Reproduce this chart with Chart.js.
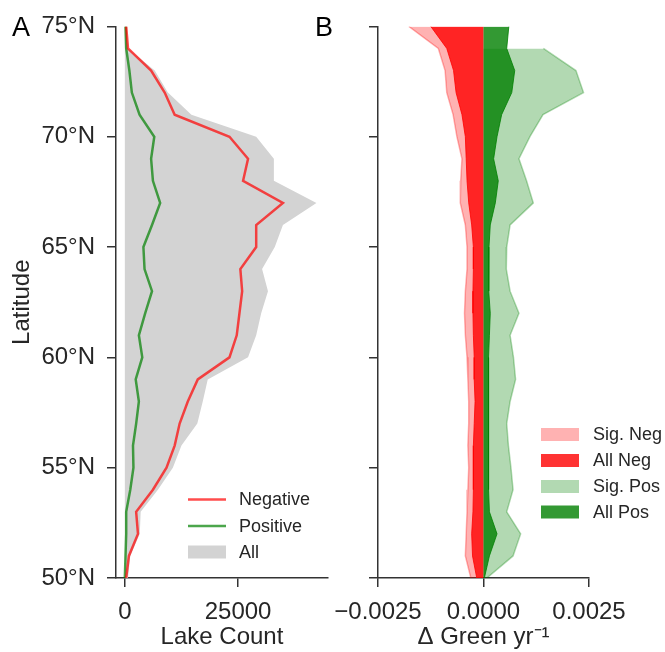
<!DOCTYPE html>
<html>
<head>
<meta charset="utf-8">
<script src="https://cdn.jsdelivr.net/npm/chart.js@4/dist/chart.umd.min.js"></script>
<style>
  html, body { margin: 0; padding: 0; background: #ffffff; }
  #wrap { position: relative; width: 665px; height: 652px; }
  canvas { position: absolute; left: 0; top: 0; }
</style>
</head>
<body>
<div id="wrap">
  <canvas id="chartA" width="665" height="652"></canvas>
  <canvas id="chartB" width="665" height="652"></canvas>
</div>
<script>
// ---------------- DATA ----------------
const latitudes = [75, 74, 73, 72, 71, 70, 69, 68, 67, 66, 65, 64, 63, 62, 61, 60, 59, 58, 57, 56, 55, 54, 53, 52, 51, 50];

// Panel A: lake counts
const negativeCount = [300, 700, 5800, 8800, 11000, 23100, 27200, 26100, 34900, 29000, 29000, 25500, 25900, 25300, 24700, 23100, 16100, 13900, 12100, 11000, 9200, 6200, 2500, 2900, 900, 300];
const positiveCount = [150, 300, 1000, 1550, 3250, 6500, 5800, 6200, 7800, 6000, 4100, 4350, 6000, 4500, 3100, 3850, 2400, 3100, 2500, 1800, 1900, 1200, 300, 300, 150, 0];
const allCount      = [400, 700, 6600, 9500, 14700, 29000, 32900, 32900, 42300, 34900, 33100, 30300, 31600, 30100, 29000, 27200, 18300, 17200, 16000, 12500, 10600, 7300, 3500, 3300, 1200, 700];

// Panel B: delta green per year
const sigNeg = [-0.00177, -0.00107, -0.00091, -0.00087, -0.00072, -0.00063, -0.00051, -0.00054, -0.00055, -0.00043, -0.00039, -0.00039, -0.00043, -0.00045, -0.00043, -0.00039, -0.00037, -0.00035, -0.00035, -0.00037, -0.00035, -0.00037, -0.00039, -0.00041, -0.00043, -0.00030];
const allNeg = [-0.00125, -0.00087, -0.00071, -0.00065, -0.00051, -0.00043, -0.00041, -0.00039, -0.00035, -0.00028, -0.00024, -0.00024, -0.00025, -0.00025, -0.00024, -0.00022, -0.00022, -0.00020, -0.00022, -0.00024, -0.00024, -0.00024, -0.00025, -0.00028, -0.00026, -0.00016];
const sigPos = [null, 0.00142, 0.00219, 0.00237, 0.00141, 0.00110, 0.00084, 0.00102, 0.00118, 0.00063, 0.00055, 0.00054, 0.00063, 0.00084, 0.00063, 0.00071, 0.00076, 0.00063, 0.00055, 0.00059, 0.00065, 0.00070, 0.00055, 0.00088, 0.00070, 0.00008];
const allPos = [0.00060, 0.00055, 0.00074, 0.00067, 0.00043, 0.00032, 0.00024, 0.00035, 0.00028, 0.00016, 0.00013, 0.00012, 0.00013, 0.00016, 0.00014, 0.00012, 0.00012, 0.00012, 0.00012, 0.00012, 0.00012, 0.00012, 0.00014, 0.00032, 0.00014, 0.00002];

// Tick labels
const latTicks = [50, 55, 60, 65, 70, 75];
const countTicks = [0, 25000];
const greenTicks = [-0.0025, 0, 0.0025];

// ---------------- STYLE ----------------
const FONT = "'Liberation Sans', Arial, Helvetica, sans-serif";
const TEXT = '#262626';
const AXIS = '#333333';

function pts(vals) {
  return latitudes.map((lat, i) => ({ x: vals[i], y: lat }));
}
function setTicks(values) {
  return function (scale) { scale.ticks = values.map(v => ({ value: v })); };
}
function fmtGreen(v) {
  const s = Math.abs(v).toFixed(4);
  return v < 0 ? '\u2212' + s : s;
}

function yScale(showLabels, width, withTitle) {
  return {
    type: 'linear', min: 50, max: 75,
    afterBuildTicks: setTicks(latTicks),
    afterFit: s => { s.width = width; },
    border: { display: true, color: AXIS, width: 1.5 },
    grid: { drawOnChartArea: false, drawTicks: true, tickLength: 9, color: AXIS, lineWidth: 1.5 },
    ticks: {
      padding: 12, color: TEXT, font: { family: FONT, size: 24 },
      callback: v => showLabels ? v + '\u00B0N' : ''
    },
    title: withTitle ? {
      display: true, text: 'Latitude', color: TEXT,
      font: { family: FONT, size: 24 }, padding: { top: 8, bottom: 0 }
    } : { display: false }
  };
}

function xScale(min, max, ticks, fmt, title) {
  return {
    type: 'linear', min: min, max: max,
    afterBuildTicks: setTicks(ticks),
    afterFit: s => { s.height = 74; },
    border: { display: true, color: AXIS, width: 1.5 },
    grid: { drawOnChartArea: false, drawTicks: true, tickLength: 9, color: AXIS, lineWidth: 1.5 },
    ticks: { padding: 11, color: TEXT, font: { family: FONT, size: 24 }, maxRotation: 0, autoSkip: false, callback: fmt },
    title: { display: true, text: title, color: TEXT, font: { family: FONT, size: 24 }, padding: { top: 0, bottom: 0 } }
  };
}

// custom legend + panel letter plugin
function annotPlugin(letter, lx, items) {
  return {
    id: 'annot' + letter,
    afterDraw(chart) {
      const ctx = chart.ctx;
      ctx.save();
      ctx.fillStyle = '#000000';
      ctx.font = '27px ' + FONT;
      ctx.textAlign = 'left';
      ctx.textBaseline = 'alphabetic';
      ctx.fillText(letter, lx, 36);
      ctx.font = '18px ' + FONT;
      ctx.textBaseline = 'middle';
      items.forEach(it => {
        if (it.type === 'line') {
          ctx.strokeStyle = it.color; ctx.lineWidth = 2.5;
          ctx.beginPath(); ctx.moveTo(it.x0, it.y); ctx.lineTo(it.x1, it.y); ctx.stroke();
        } else {
          ctx.fillStyle = it.color;
          ctx.fillRect(it.x0, it.y - 6.5, it.x1 - it.x0, 13);
        }
        ctx.fillStyle = TEXT;
        ctx.fillText(it.label, it.tx, it.y + 1);
      });
      ctx.restore();
    }
  };
}

const RED_LINE = 'rgba(255,0,0,0.7)';
const GREEN_LINE = 'rgba(0,128,0,0.7)';
const GRAY_FILL = '#d3d3d3';

// ---------------- PANEL A ----------------
new Chart(document.getElementById('chartA'), {
  type: 'line',
  data: {
    datasets: [
      { label: 'Negative', data: pts(negativeCount), borderColor: RED_LINE, borderWidth: 2.5, pointRadius: 0, fill: false, tension: 0, order: 1 },
      { label: 'Positive', data: pts(positiveCount), borderColor: GREEN_LINE, borderWidth: 2.5, pointRadius: 0, fill: false, tension: 0, order: 2 },
      { label: 'All', data: pts(allCount), borderWidth: 0, borderColor: 'rgba(0,0,0,0)', backgroundColor: GRAY_FILL, pointRadius: 0, fill: 'origin', tension: 0, order: 3 }
    ]
  },
  options: {
    indexAxis: 'y',
    responsive: false, animation: false, devicePixelRatio: 1,
    layout: { padding: { left: 0, right: 337, top: 22, bottom: 0 } },
    plugins: { legend: { display: false }, tooltip: { enabled: false } },
    scales: {
      x: xScale(-1950, 44850, countTicks, v => String(v), 'Lake Count'),
      y: yScale(true, 116, true)
    }
  },
  plugins: [annotPlugin('A', 12, [
    { type: 'line', color: RED_LINE, x0: 188, x1: 226, y: 499.5, tx: 239, label: 'Negative' },
    { type: 'line', color: GREEN_LINE, x0: 188, x1: 226, y: 526, tx: 239, label: 'Positive' },
    { type: 'rect', color: GRAY_FILL, x0: 188, x1: 226, y: 552, tx: 239, label: 'All' }
  ])]
});

// ---------------- PANEL B ----------------
const SIG_NEG = 'rgba(255,0,0,0.3)';
const ALL_NEG = 'rgba(255,0,0,0.8)';
const SIG_POS = 'rgba(0,128,0,0.3)';
const ALL_POS = 'rgba(0,128,0,0.8)';

new Chart(document.getElementById('chartB'), {
  type: 'line',
  data: {
    datasets: [
      { label: 'Sig. Neg', data: pts(sigNeg), borderColor: SIG_NEG, backgroundColor: SIG_NEG, borderWidth: 1.5, pointRadius: 0, fill: 'origin', tension: 0, order: 4 },
      { label: 'All Neg', data: pts(allNeg), borderColor: ALL_NEG, backgroundColor: ALL_NEG, borderWidth: 1, pointRadius: 0, fill: 'origin', tension: 0, order: 2 },
      { label: 'Sig. Pos', data: pts(sigPos), borderColor: SIG_POS, backgroundColor: SIG_POS, borderWidth: 1.5, pointRadius: 0, fill: 'origin', tension: 0, order: 3, spanGaps: false },
      { label: 'All Pos', data: pts(allPos), borderColor: ALL_POS, backgroundColor: ALL_POS, borderWidth: 1, pointRadius: 0, fill: 'origin', tension: 0, order: 1 }
    ]
  },
  options: {
    indexAxis: 'y',
    responsive: false, animation: false, devicePixelRatio: 1,
    layout: { padding: { left: 0, right: 76, top: 22, bottom: 0 } },
    plugins: { legend: { display: false }, tooltip: { enabled: false } },
    scales: {
      x: xScale(-0.0025, 0.0025, greenTicks, fmtGreen, '\u0394 Green yr\u207B\u00B9'),
      y: yScale(false, 378, false)
    }
  },
  plugins: [annotPlugin('B', 315, [
    { type: 'rect', color: SIG_NEG, x0: 541, x1: 579, y: 434.5, tx: 593, label: 'Sig. Neg' },
    { type: 'rect', color: ALL_NEG, x0: 541, x1: 579, y: 460.5, tx: 593, label: 'All Neg' },
    { type: 'rect', color: SIG_POS, x0: 541, x1: 579, y: 486.5, tx: 593, label: 'Sig. Pos' },
    { type: 'rect', color: ALL_POS, x0: 541, x1: 579, y: 512, tx: 593, label: 'All Pos' }
  ])]
});
</script>
</body>
</html>
